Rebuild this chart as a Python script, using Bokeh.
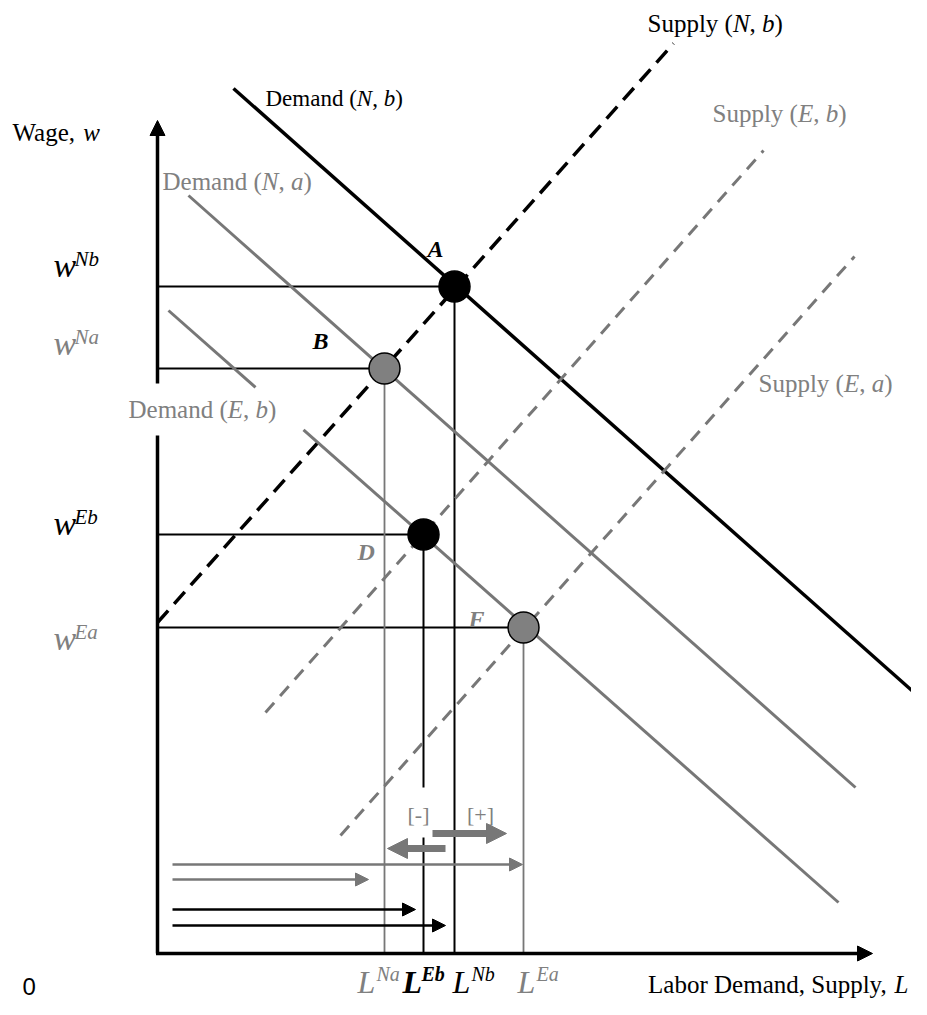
import numpy as np
from bokeh.plotting import figure
from bokeh.models import Range1d, Arrow, NormalHead
from bokeh.core.properties import value
from bokeh.embed import file_html
from bokeh.resources import INLINE

# ---------------- data (diagram units: labour L to the right, wage w up, origin at the axes' corner) ----
curve_names   = ["Demand (N, b)", "Supply (N, b)", "Demand (N, a)", "Demand (E, b)", "Supply (E, b)", "Supply (E, a)"]
curve_L_start = [76, 0, 31, 11, 108, 183]
curve_w_start = [865, 331, 758, 643, 241, 118]
curve_L_end   = [760, 516, 698, 681, 606, 697]
curve_w_end   = [258, 910, 166, 51, 803, 697]

eq_names = ["A", "B", "D", "F"]
eq_L     = [297, 227, 266, 366]
eq_w     = [667, 585, 419, 326]
eq_sup   = ["Nb", "Na", "Eb", "Ea"]

qty_arrow_start = 15
qty_arrow_end   = [365, 211, 258, 288]
qty_arrow_w     = [89, 74, 44, 28]

shift_labels  = ["[-]", "[+]"]
shift_L_start = [288, 275]
shift_L_end   = [230, 349]
shift_w       = [105, 120]

axis_L_max = 715
axis_w_max = 833

# ---------------- styling ----------------
FONT = "Liberation Serif"
BLACK = "#000000"
GRAY_L = "#777777"
GRAY_T = "#808080"

W = {
    "normal": {'D': 722, 'e': 444, 'm': 778, 'a': 444, 'n': 500, 'd': 500, ' ': 250, '(': 333, ')': 333,
               ',': 250, 'S': 556, 'u': 500, 'p': 500, 'l': 278, 'y': 500, 'L': 611, 'b': 500, 'o': 500,
               'r': 333, 'W': 944, 'g': 500},
    "italic": {'N': 667, 'E': 611, 'a': 500, 'b': 500, 'w': 667, 'L': 556},
    "bold italic": {'N': 722, 'E': 667, 'a': 500, 'b': 500, 'w': 667, 'L': 611},
}


def run_width(txt, style, size):
    return sum(W[style].get(c, 500) for c in txt) * size / 1000.0


p = figure(width=911, height=999, x_range=Range1d(-157, 754), y_range=Range1d(-46, 953),
           output_backend="svg", toolbar_location=None, x_axis_location=None, y_axis_location=None,
           min_border=0, outline_line_color=None)
p.grid.visible = False


def put_text(x, y, txt, size, color, style="normal", font=FONT, align="left"):
    # y is the wanted baseline; text is placed by its middle
    p.text(x=[x], y=[y + 0.36 * size], text=[txt], text_font=value(font), text_font_size=f"{size}px",
           text_font_style=style, text_color=color, text_baseline="middle", text_align=align)


def put_runs(x, y, runs, size, color, align="left"):
    total = sum(run_width(t, s, size) for t, s in runs)
    cx = x - total if align == "right" else x
    for t, s in runs:
        put_text(cx, y, t, size, color, s)
        cx += run_width(t, s, size)


# ---------------- axes ----------------
gap_lo, gap_hi = 518, 570
p.line([0, 0], [0, gap_lo], line_color=BLACK, line_width=3.5)
p.add_layout(Arrow(end=NormalHead(size=15, fill_color=BLACK, line_color=BLACK, line_width=1),
                   x_start=0, y_start=gap_hi, x_end=0, y_end=axis_w_max, line_color=BLACK, line_width=3.5))
p.add_layout(Arrow(end=NormalHead(size=15, fill_color=BLACK, line_color=BLACK, line_width=1),
                   x_start=-1.5, y_start=0, x_end=axis_L_max, y_end=0, line_color=BLACK, line_width=3.5))

# ---------------- guide lines ----------------
eq_fill = [BLACK, GRAY_T, BLACK, GRAY_T]
vline_col = [BLACK, GRAY_L, BLACK, GRAY_L]
for i in range(4):
    p.line([0, eq_L[i]], [eq_w[i], eq_w[i]], line_color=BLACK, line_width=1.8)
# vertical drop lines (L^Eb has a gap for the "[-]" label)
for i in range(4):
    if eq_names[i] == "D":
        p.line([eq_L[i], eq_L[i]], [eq_w[i], 166], line_color=BLACK, line_width=2)
        p.line([eq_L[i], eq_L[i]], [116, 0], line_color=BLACK, line_width=2)
    else:
        p.line([eq_L[i], eq_L[i]], [eq_w[i], 0], line_color=vline_col[i],
               line_width=2 if vline_col[i] == BLACK else 1.8)

# ---------------- curves ----------------
for i, name in enumerate(curve_names):
    Ls = [curve_L_start[i], curve_L_end[i]]
    ws = [curve_w_start[i], curve_w_end[i]]
    black = name.endswith("(N, b)")
    col = BLACK if black else GRAY_L
    if name.startswith("Supply"):
        p.line(Ls, ws, line_color=col, line_width=3.5 if black else 3,
               line_dash="16 9" if black else "13 9")
    elif name == "Demand (E, b)":
        g0, g1 = 98, 146
        wg0 = float(np.interp(g0, Ls, ws))
        wg1 = float(np.interp(g1, Ls, ws))
        p.line([Ls[0], g0], [ws[0], wg0], line_color=col, line_width=3)
        p.line([g1, Ls[1]], [wg1, ws[1]], line_color=col, line_width=3)
    else:
        p.line(Ls, ws, line_color=col, line_width=3.5 if black else 3)

# ---------------- quantity arrows ----------------
qcol = [GRAY_L, GRAY_L, BLACK, BLACK]
for i in range(4):
    p.add_layout(Arrow(end=NormalHead(size=13, fill_color=qcol[i], line_color=qcol[i], line_width=1),
                       x_start=qty_arrow_start, y_start=qty_arrow_w[i], x_end=qty_arrow_end[i],
                       y_end=qty_arrow_w[i], line_color=qcol[i], line_width=2.5))
for i in range(2):
    p.add_layout(Arrow(end=NormalHead(size=20, fill_color=GRAY_L, line_color=GRAY_L, line_width=1),
                       x_start=shift_L_start[i], y_start=shift_w[i], x_end=shift_L_end[i],
                       y_end=shift_w[i], line_color=GRAY_L, line_width=7, line_cap="butt"))
put_text(261, 131, shift_labels[0], 22, GRAY_T, align="center")
put_text(323, 131, shift_labels[1], 22, GRAY_T, align="center")

# ---------------- equilibrium points ----------------
p.scatter(eq_L, eq_w, marker="circle", size=31, fill_color=eq_fill, line_color=BLACK, line_width=1.5)

# ---------------- texts ----------------
def curve_runs(name):
    base, rest = name.split("(")
    a, b = rest.rstrip(")").split(", ")
    return [(base + "(", "normal"), (a, "italic"), (", ", "normal"), (b, "italic"), (")", "normal")]

curve_label_pos = {
    "Demand (N, b)": (108, 847, 23, BLACK),
    "Supply (N, b)": (490, 921, 25, BLACK),
    "Demand (N, a)": (5, 763, 25, GRAY_T),
    "Supply (E, b)": (555, 831, 25, GRAY_T),
    "Demand (E, b)": (-29, 535, 25, GRAY_T),
    "Supply (E, a)": (601, 561, 25, GRAY_T),
}
for name in curve_names:
    x, y, s, c = curve_label_pos[name]
    put_runs(x, y, curve_runs(name), s, c)

# point letters
pt_pos = {"A": (270, 696, BLACK), "B": (155, 604, BLACK), "D": (200, 393, GRAY_T), "F": (311, 326, GRAY_T)}
for n in eq_names:
    x, y, c = pt_pos[n]
    put_text(x, y, n, 24, c, "bold italic")

# wage labels
w_base = {"Nb": 676, "Na": 598, "Eb": 418, "Ea": 303}
w_col = {"Nb": BLACK, "Na": GRAY_T, "Eb": BLACK, "Ea": GRAY_T}
for s in eq_sup:
    put_text(-104, w_base[s], "w", 34, w_col[s], "italic")
    put_text(-83, w_base[s] + 11, s, 21, w_col[s], "italic")

# labour labels
L_x = {"Na": 200, "Eb": 245, "Nb": 295, "Ea": 360}
L_col = {"Nb": BLACK, "Na": GRAY_T, "Eb": BLACK, "Ea": GRAY_T}
L_style = {"Nb": "italic", "Na": "italic", "Eb": "bold italic", "Ea": "italic"}
for s in eq_sup:
    x0 = L_x[s]
    put_text(x0, -40, "L", 32, L_col[s], L_style[s])
    put_text(x0 + 19, -28, s, 20, L_col[s], L_style[s])

put_runs(-145, 812, [("Wage, ", "normal"), ("w", "italic")], 25, BLACK)
put_runs(751, -40, [("Labor Demand, Supply, ", "normal"), ("L", "italic")], 25, BLACK, align="right")
put_text(-135, -42, "0", 24, BLACK, font="Liberation Sans")

open("out.html", "w").write(file_html(p, INLINE))
